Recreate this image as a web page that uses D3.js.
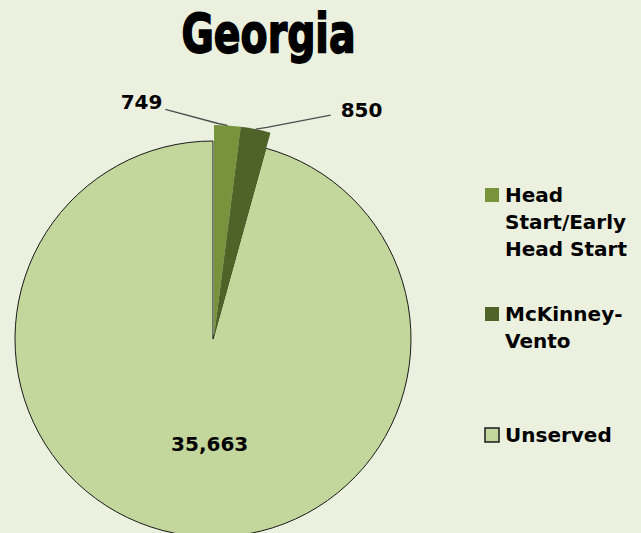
<!DOCTYPE html>
<html lang="en">
<head>
    <meta charset="UTF-8">
    <title>Georgia</title>
    <script src="https://d3js.org/d3.v7.min.js"></script>
    <style>
        body {
            margin: 0;
            background-color: #ebf1de;
        }

        svg {
            display: block;
        }

        text {
            font-family: 'DejaVu Sans', sans-serif;
            font-weight: bold;
            fill: #000;
        }
    </style>
</head>
<body>
    <svg id="chart" width="641" height="533"></svg>

    <script>
        const title = "Georgia";
        const categories = ["Head Start/Early Head Start", "McKinney-Vento", "Unserved"];
        const values = [749, 850, 35663];
        const legendLines = [["Head", "Start/Early", "Head Start"], ["McKinney-", "Vento"], ["Unserved"]];
        const colors = ["#77933c", "#4f6228", "#c3d69b"];

        const svg = d3.select("#chart");
        const width = +svg.attr("width");

        // pie layout
        const cx = 213, cy = 339;
        const radius = 198;
        const explodedRadius = 212;

        const data = categories.map((c, i) => ({ name: c, value: values[i], color: colors[i], lines: legendLines[i] }));

        const pie = d3.pie()
            .sort(null)
            .value(d => d.value);

        const arcs = pie(data);

        const arcMain = d3.arc().innerRadius(0).outerRadius(radius);
        const arcBig = d3.arc().innerRadius(0).outerRadius(explodedRadius);

        svg.append("text")
            .attr("x", width / 2 - 52)
            .attr("y", 52)
            .attr("text-anchor", "middle")
            .attr("font-size", 54)
            .attr("textLength", 174)
            .attr("lengthAdjust", "spacingAndGlyphs")
            .attr("stroke", "#000")
            .attr("stroke-width", 1.8)
            .text(title);

        const pieG = svg.append("g")
            .attr("transform", `translate(${cx},${cy})`);

        // big slice (unserved) with outline
        pieG.selectAll("path.main")
            .data(arcs.filter(d => d.data.name === "Unserved"))
            .join("path")
            .attr("class", "main")
            .attr("d", arcMain)
            .attr("fill", d => d.data.color)
            .attr("stroke", "#1a1a1a")
            .attr("stroke-width", 1);

        // the two small exploded slices
        pieG.selectAll("path.small")
            .data(arcs.filter(d => d.data.name !== "Unserved"))
            .join("path")
            .attr("class", "small")
            .attr("transform", "translate(1,-2)")
            .attr("d", arcBig)
            .attr("fill", d => d.data.color);

        // outside labels with leader lines
        const labelOffsets = [[-62, -16], [75, -14]];
        arcs.filter(d => d.data.name !== "Unserved").forEach((d, i) => {
            const mid = (d.startAngle + d.endAngle) / 2;
            const px = Math.sin(mid) * explodedRadius + 1;
            const py = -Math.cos(mid) * explodedRadius - 2;
            const lx = px + labelOffsets[i][0];
            const ly = py + labelOffsets[i][1];

            pieG.append("path")
                .attr("d", `M${lx},${ly} L${lx + (px - lx) * 0.85},${ly + (py - ly) * 0.88} L${px},${py}`)
                .attr("fill", "none")
                .attr("stroke", "#4d4d4d")
                .attr("stroke-width", 1.3);

            pieG.append("text")
                .attr("x", i === 0 ? lx - 3 : lx + 10)
                .attr("y", i === 0 ? ly : ly + 2)
                .attr("text-anchor", i === 0 ? "end" : "start")
                .attr("font-size", 20)
                .text(d3.format(",")(d.data.value));
        });

        // label inside the big slice
        const unserved = arcs.find(d => d.data.name === "Unserved");
        const c = arcMain.centroid(unserved);
        pieG.append("text")
            .attr("x", c[0] + 10)
            .attr("y", c[1] + 14)
            .attr("text-anchor", "middle")
            .attr("font-size", 20)
            .text(d3.format(",")(unserved.data.value));

        // legend
        const legendTops = [188, 307, 428];
        const legend = svg.append("g")
            .attr("transform", "translate(485,0)");

        const items = legend.selectAll("g")
            .data(data)
            .join("g")
            .attr("transform", (d, i) => `translate(0,${legendTops[i]})`);

        items.append("rect")
            .attr("width", 14)
            .attr("height", 14)
            .attr("fill", d => d.color)
            .attr("stroke", d => d.name === "Unserved" ? "#1a1a1a" : "none")
            .attr("stroke-width", 1.5);

        items.append("text")
            .attr("x", 20)
            .attr("font-size", 20)
            .selectAll("tspan")
            .data(d => d.lines)
            .join("tspan")
            .attr("x", 20)
            .attr("y", (d, i) => 14 + i * 27)
            .text(d => d);
    </script>
</body>
</html>
